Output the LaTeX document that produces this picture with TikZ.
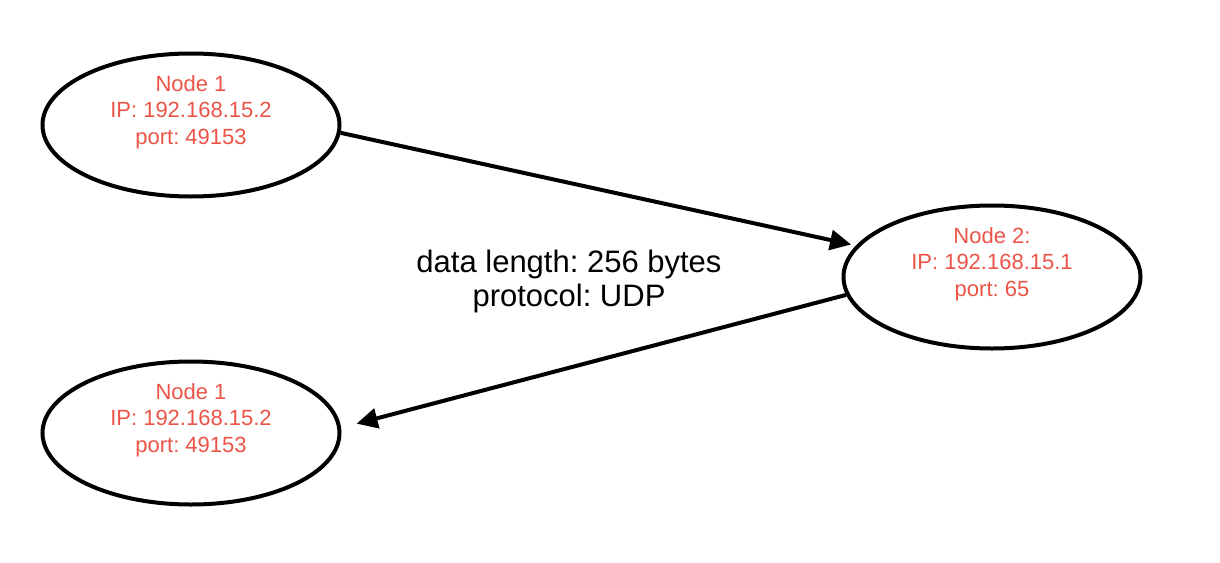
\documentclass[tikz,border=0pt]{standalone}
\usepackage{fontspec}
\setmainfont{Liberation Sans}
\frenchspacing
\usetikzlibrary{shapes.geometric,arrows.meta,positioning}

\begin{document}
\begin{tikzpicture}[x=1pt,y=-1pt,
  host/.style={draw=cv,line width=4pt,ellipse,minimum width=297pt,minimum height=143pt,inner sep=0pt},
  hosttext/.style={text=clv,align=center,font=\fontsize{22}{26.5}\selectfont},
  msg/.style={text=cm,align=center,font=\fontsize{31}{34}\selectfont},
  link/.style={draw=ce,line width=4pt,-{Triangle[length=21pt,width=20pt]}}]
%
\useasboundingbox (0,0) rectangle (1220,562);
%
\definecolor{cv}{rgb}{0.0,0.0,0.0}
\definecolor{clv}{rgb}{0.92,0.33,0.28}
\definecolor{ce}{rgb}{0.0,0.0,0.0}
\definecolor{cm}{rgb}{0.0,0.0,0.0}
%
\node[host] (n1a) at (191,125) {};
\node[host] (n2) at (992,277) {};
\node[host] (n1b) at (191,433) {};
%
\node[hosttext] (t1a) at ([yshift=13pt]n1a.center) {Node 1\\IP: 192.168.15.2\\port: 49153};
\node[hosttext] (t2) at ([yshift=13pt]n2.center) {Node 2:\\IP: 192.168.15.1\\port: 65};
\node[hosttext] (t1b) at ([yshift=13pt]n1b.center) {Node 1\\IP: 192.168.15.2\\port: 49153};
%
\node[msg] (m) at (569,281) {data length: 256 bytes\\protocol: UDP};
%
\draw[link,shorten >=5pt] (n1a.-3) -- (n2.167);
\draw[link,shorten >=16pt] (n2.187) -- (n1b.2);
%
\end{tikzpicture}
\end{document}
